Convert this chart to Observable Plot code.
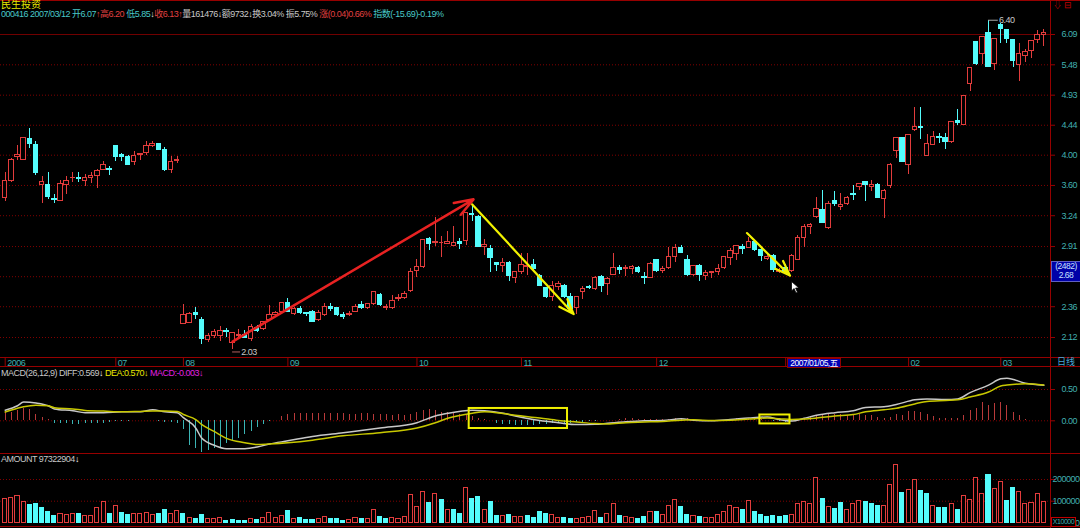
<!DOCTYPE html>
<html><head><meta charset="utf-8">
<script src="https://cdn.jsdelivr.net/npm/d3@7"></script>
<script src="https://cdn.jsdelivr.net/npm/@observablehq/plot@0.6"></script>
<style>
html,body{margin:0;padding:0;background:#000;}
#root{position:relative;width:1080px;height:528px;overflow:hidden;background:#000;}
.t{position:absolute;white-space:nowrap;font-size:9px;line-height:10px;}
.h{position:absolute;left:0;width:1080px;height:1px;background:#960000;}
.v{position:absolute;width:1px;background:#960000;}
</style></head><body><div id="root"></div>
<script>
// ---------------- data ----------------
const open = [3.45,3.65,3.98,3.94,4.23,4.14,3.61,3.61,3.43,3.41, 3.61,3.69,3.70,3.66,3.69,3.72,3.80,3.81,4.13,4.00, 3.98,3.90,4.00,4.03,4.13,4.16,4.07,3.80,3.92,2.22, 2.23,2.31,2.25,2.10,2.13,2.13,2.17,2.08,2.13,2.14, 2.11,2.19,2.18,2.25,2.29,2.32,2.39,2.30,2.34,2.31, 2.32,2.25,2.29,2.36,2.35,2.29,2.29,2.32,2.37,2.35, 2.38,2.46,2.35,2.35,2.42,2.43,2.49,2.67,2.71,2.99, 2.95,2.95,2.94,2.92,2.96,2.97,3.26,3.23,2.91,2.89, 2.75,2.72,2.75,2.61,2.66,2.71,2.73,2.63,2.52,2.44, 2.53,2.54,2.44,2.35,2.48,2.53,2.51,2.62,2.55,2.64, 2.70,2.69,2.69,2.70,2.62,2.61,2.78,2.67,2.70,2.81, 2.90,2.78,2.64,2.72,2.63,2.65,2.66,2.70,2.80,2.84, 2.91,2.90,2.96,2.88,2.79,2.82,2.66,2.70,2.67,2.78, 3.00,3.11,3.23,3.30,3.10,3.41,3.34,3.37,3.49,3.58, 3.64,3.58,3.60,3.43,3.59,4.06,4.25,3.86,4.37,4.42, 3.99,4.14,4.26,4.24,4.19,4.51,4.44,5.12,5.93,5.70, 6.12,5.49,6.29,6.19,5.98,5.47,5.65,5.75,5.97,6.07];
const high = [3.76,3.95,4.14,4.25,4.39,4.20,3.72,3.76,3.49,3.66, 3.72,3.77,3.77,3.74,3.76,3.80,3.91,3.85,4.14,4.03, 4.00,4.05,4.02,4.19,4.19,4.17,4.11,3.98,3.98,2.38, 2.31,2.35,2.27,2.15,2.18,2.20,2.19,2.16,2.18,2.17, 2.22,2.21,2.24,2.37,2.32,2.39,2.43,2.35,2.36,2.31, 2.33,2.33,2.39,2.39,2.35,2.31,2.32,2.38,2.40,2.39, 2.48,2.47,2.38,2.45,2.46,2.49,2.70,2.78,2.98,3.00, 3.22,3.01,3.07,3.12,2.99,3.27,3.36,3.24,2.98,2.92, 2.75,2.79,2.76,2.67,2.84,2.84,2.78,2.64,2.52,2.58, 2.58,2.55,2.47,2.44,2.53,2.54,2.62,2.63,2.61,2.84, 2.72,2.72,2.72,2.71,2.66,2.75,2.78,2.71,2.90,2.93, 2.92,2.82,2.72,2.73,2.68,2.66,2.73,2.81,2.89,2.92, 2.93,3.00,2.97,2.89,2.84,2.83,2.70,2.73,2.83,3.02, 3.14,3.15,3.45,3.54,3.40,3.53,3.50,3.47,3.60,3.62, 3.65,3.66,3.62,3.55,3.88,4.24,4.26,4.30,4.73,4.73, 4.30,4.34,4.32,4.31,4.50,4.69,4.93,5.41,5.93,6.03, 6.40,6.00,6.33,6.19,5.98,5.90,5.79,5.96,6.17,6.20];
const low = [3.40,3.64,3.93,3.93,4.10,3.73,3.38,3.43,3.38,3.40, 3.49,3.64,3.64,3.59,3.63,3.56,3.80,3.73,3.92,3.92, 3.86,3.86,3.93,4.00,4.11,4.06,3.78,3.75,3.88,2.22, 2.23,2.26,2.07,2.08,2.11,2.09,2.12,2.03,2.12,2.11, 2.09,2.16,2.17,2.25,2.28,2.31,2.31,2.29,2.30,2.28, 2.23,2.24,2.28,2.32,2.28,2.26,2.28,2.31,2.34,2.34, 2.37,2.36,2.33,2.34,2.40,2.42,2.48,2.61,2.70,2.87, 2.91,2.80,2.93,2.91,2.88,2.92,3.18,2.90,2.82,2.66, 2.67,2.66,2.58,2.56,2.64,2.63,2.67,2.53,2.43,2.40, 2.50,2.43,2.33,2.30,2.42,2.51,2.50,2.48,2.45,2.63, 2.64,2.62,2.64,2.65,2.55,2.60,2.66,2.65,2.69,2.75, 2.84,2.62,2.62,2.58,2.59,2.60,2.63,2.69,2.72,2.77, 2.83,2.89,2.86,2.76,2.77,2.66,2.65,2.64,2.66,2.77, 2.90,3.04,3.21,3.15,3.09,3.34,3.30,3.36,3.42,3.54, 3.40,3.53,3.44,3.21,3.56,3.95,3.90,3.74,4.34,4.22, 3.98,4.14,4.16,4.08,4.17,4.43,4.43,5.00,5.47,5.49, 5.43,5.38,5.90,5.90,5.42,5.17,5.53,5.61,5.90,5.85];
const close = [3.65,3.94,4.00,4.24,4.16,3.76,3.64,3.46,3.42,3.62, 3.65,3.70,3.68,3.69,3.72,3.78,3.86,3.80,3.98,3.97, 3.87,3.99,4.02,4.13,4.16,4.07,3.80,3.91,3.93,2.29, 2.30,2.29,2.11,2.13,2.16,2.17,2.16,2.15,2.14,2.12, 2.20,2.17,2.24,2.29,2.31,2.39,2.32,2.34,2.31,2.30, 2.24,2.31,2.36,2.34,2.29,2.28,2.30,2.36,2.35,2.38, 2.48,2.37,2.36,2.41,2.43,2.47,2.66,2.71,2.98,2.94, 2.96,2.95,2.96,2.95,2.94,3.27,3.25,2.91,2.93,2.80, 2.73,2.75,2.63,2.66,2.73,2.72,2.69,2.54,2.44,2.54, 2.55,2.44,2.34,2.44,2.51,2.52,2.61,2.54,2.60,2.70, 2.68,2.70,2.71,2.66,2.61,2.74,2.67,2.69,2.81,2.90, 2.85,2.64,2.72,2.64,2.65,2.66,2.69,2.81,2.87,2.92, 2.89,2.96,2.88,2.82,2.81,2.68,2.67,2.66,2.82,3.00, 3.11,3.14,3.32,3.16,3.38,3.37,3.36,3.45,3.48,3.62, 3.61,3.60,3.45,3.53,3.87,4.24,3.91,4.29,4.41,4.39, 4.16,4.26,4.25,4.19,4.49,4.47,4.92,5.41,5.49,6.03, 5.43,5.99,6.20,5.99,5.56,5.70,5.73,5.95,6.09,6.13];
const amount = [109000,115000,125000,96000,83000,86000,67000,51000,32000,43000, 37000,43000,40000,32000,32000,67000,96000,40000,80000,45000, 35000,40000,40000,45000,35000,40000,59000,40000,56000,40000, 22000,19000,35000,16000,16000,22000,11000,13000,10000,10000, 16000,13000,24000,46000,24000,32000,53000,16000,21000,13000, 13000,16000,27000,16000,16000,10000,13000,21000,16000,19000, 61000,29000,16000,24000,16000,29000,128000,72000,141000,91000, 133000,104000,61000,59000,40000,163000,112000,120000,61000,96000, 32000,32000,35000,29000,29000,32000,24000,51000,40000,37000, 21000,21000,16000,19000,21000,27000,53000,24000,40000,85000, 32000,27000,21000,19000,27000,51000,48000,35000,77000,104000, 75000,37000,32000,27000,24000,21000,35000,51000,77000,69000, 61000,99000,51000,37000,27000,32000,29000,32000,35000,85000, 96000,85000,205000,112000,72000,64000,91000,61000,85000,99000, 96000,86000,77000,80000,176000,269000,136000,152000,200000,147000, 131000,80000,67000,67000,88000,61000,123000,104000,208000,133000, 221000,157000,189000,99000,163000,141000,85000,91000,133000,97323];
const macdBar = [0.13,0.14,0.16,0.19,0.18,0.10,0.05,0.02,-0.044,-0.044, -0.05,-0.055,-0.055,-0.05,-0.05,-0.05,-0.044,-0.033,-0.016,-0.005, -0.005,0.003,0.005,0.01,0.005,-0.005,-0.02,-0.033,-0.044,-0.14, -0.39,-0.445,-0.50,-0.47,-0.445,-0.43,-0.37,-0.335,-0.28,-0.225, -0.17,-0.115,-0.06,-0.016,0.01,0.066,0.093,0.115,0.12,0.12, 0.12,0.12,0.115,0.12,0.115,0.115,0.10,0.10,0.11,0.115, 0.10,0.10,0.093,0.088,0.093,0.088,0.10,0.13,0.16,0.176, 0.16,0.13,0.13,0.12,0.10,0.077,0.066,0.038,0.022,0, -0.044,-0.06,-0.06,-0.077,-0.077,-0.077,-0.077,-0.06,-0.055,-0.05, -0.044,-0.044,-0.04,-0.033,-0.02,-0.016,-0.01,0,0.005,0.01, 0.02,0.033,0.038,0.027,0.02,0.02,0.02,0.016,0.027,0.038, 0.044,0.033,0.016,0.005,0,0,0,0.01,0.02,0.033, 0.038,0.038,0.027,0.016,0.005,-0.005,-0.016,-0.022,-0.01,0.005, 0.033,0.05,0.088,0.088,0.10,0.10,0.093,0.088,0.10,0.104, 0.088,0.077,0.05,0.038,0.055,0.104,0.088,0.143,0.143,0.13, 0.104,0.066,0.044,0.033,0.038,0.033,0.077,0.16,0.20,0.30, 0.24,0.27,0.286,0.24,0.13,0.077,0.022,0.005,0.002,-0.003];
const lineIdx = [0,2,3,5,7,8,11,13,16,19,22,24,26,28,29,31,32,34,36,39,41,43,46,50,55,61,67,70,72,76,78,81,83,87,90,93,96,98,101,104,107,110,112,115,118,121,124,126,128,130,132,135,138,140,143,145,148,150,153,155,157,160,162,163,166,169];
const diffVals = [0.17,0.24,0.30,0.285,0.24,0.19,0.16,0.13,0.13,0.143,0.143,0.176,0.143,0.13,0.05,-0.115,-0.28,-0.39,-0.445,-0.445,-0.42,-0.37,-0.32,-0.25,-0.19,-0.115,-0.03,0.077,0.12,0.17,0.16,0.12,0.077,0.005,-0.03,-0.06,-0.055,-0.04,-0.016,0.0,0.005,0.033,0.01,0.0,0.02,0.044,0.06,0.02,-0.005,0.04,0.088,0.13,0.16,0.214,0.225,0.26,0.335,0.35,0.34,0.35,0.45,0.57,0.67,0.68,0.60,0.569];
const deaVals = [0.14,0.20,0.225,0.25,0.24,0.21,0.19,0.165,0.155,0.143,0.15,0.155,0.155,0.15,0.10,0.02,-0.06,-0.17,-0.28,-0.35,-0.38,-0.37,-0.35,-0.31,-0.24,-0.19,-0.115,-0.03,0.04,0.12,0.143,0.115,0.088,0.045,0.005,-0.02,-0.045,-0.05,-0.03,-0.02,-0.01,0.01,0.016,0.005,0.01,0.027,0.044,0.033,0.02,0.027,0.044,0.077,0.10,0.143,0.176,0.20,0.27,0.31,0.325,0.335,0.38,0.46,0.555,0.57,0.59,0.570];
const monthIdx = [0,18,29,46,67,84,106,127,147,162];
const monthLabels = ["2006","07","08","09","10","11","12","2007","02","03"];
const priceTicks = [2.12,2.36,2.62,2.91,3.24,3.60,4.00,4.44,4.93,5.48,6.09];
const macdTicks = [0,0.5];
const amountTicks = [0,100000,200000];
// trend annotations (day index, price)
const arrowX1 = [37, 76, 120.7], arrowY1 = [2.09, 3.37, 3.05];
const arrowX2 = [76.2, 92.5, 127.7], arrowY2 = [3.43, 2.30, 2.63];
const arrowDir = ["up","down","down"];
// highlighted MACD boxes (day index range, value range)
const boxX1 = [75.5, 122.8], boxX2 = [91.5, 127.7], boxY1 = [-0.123, -0.05], boxY2 = [0.197, 0.093];
const cursorIdx = 128, cursorPrice = 2.68, cursorLabel = "(2482)", cursorDate = "2007/01/05,五";

// ---------------- fonts ----------------
function textWidth(font){ const c=document.createElement("canvas").getContext("2d"); c.font=font; return c.measureText("0123456789").width; }
const hasNarrow = Math.abs(textWidth('20px "Liberation Sans Narrow", monospace') - textWidth('20px monospace')) > 0.5;
const FONT = hasNarrow ? '"Liberation Sans Narrow", "Noto Sans CJK SC", sans-serif' : '"Liberation Sans", "Noto Sans CJK SC", sans-serif';
const LS = hasNarrow ? "0px" : "-0.5px";

// ---------------- drawing ----------------
const RED="#e23c3c", CYAN="#54fcfc", MRED="#b83a3a", MCYAN="#3cb4b4", GRID="#800000", FRAME="#960000", TEAL="#40b0b0";
const X = {domain:[0,169], range:[4.7,1043.3], axis:null};
const N = close.length;
const rows = d3.range(N).map(i => ({i, o:open[i], h:high[i], l:low[i], c:close[i], up:close[i]>=open[i], rise: i===0 || close[i]>close[i-1], a:amount[i], m:macdBar[i]}));
const arrows = arrowX1.map((_, k) => ({x1:arrowX1[k], y1:arrowY1[k], x2:arrowX2[k], y2:arrowY2[k], dir:arrowDir[k]}));
const boxes = boxX1.map((_, k) => ({x1:boxX1[k], x2:boxX2[k], y1:boxY1[k], y2:boxY2[k]}));
const peakI = d3.maxIndex(high), lowI = d3.minIndex(low);
const peak = {i:peakI, v:high[peakI]}, trough = {i:lowI, v:low[lowI]};
const diffPts = lineIdx.map((d,k)=>({i:d, v:diffVals[k]}));
const deaPts = lineIdx.map((d,k)=>({i:d, v:deaVals[k]}));

// cursor position on the price scale (used to hide the tick label it covers)
const yLog = d3.scaleLog().domain([2.12,6.09]).range([319,16]);
const cursorY = yLog(cursorPrice);
const visiblePriceLabels = priceTicks.filter(t => Math.abs(yLog(t) - cursorY) > 9);

const root = document.getElementById("root");
const base = {width:1080, marginLeft:0, marginRight:30, marginTop:0, marginBottom:0,
  style:{background:"transparent", overflow:"visible", fontFamily:FONT, letterSpacing:LS}};
function place(el, top){ el.style.position="absolute"; el.style.left="0px"; el.style.top=top+"px"; root.appendChild(el); return el; }
function rightLabels(ticks, fmt, opts={}){
  return Plot.text(ticks, {y:d=>d, text:fmt, frameAnchor:"right", dx:opts.dx ?? 11, textAnchor:opts.anchor ?? "start", fill:TEAL, fontSize:9});
}
function rightTicks(ticks){ return Plot.axisY({anchor:"right", ticks, tickSize:4, tickFormat:()=>"", color:FRAME, label:null}); }

const pricePlot = Plot.plot({...base, height:338, x:X,
  y:{type:"log", domain:[2.12,6.09], range:[319,16], axis:null, label:null},
  marks:[
    Plot.ruleY(priceTicks.filter(t=>t!==6.09), {stroke:GRID, strokeDasharray:"1,2"}),
    Plot.ruleY([6.09], {stroke:"#700000"}),
    Plot.ruleX(rows, {x:"i", y1:"l", y2:"h", stroke:d=>d.up?RED:CYAN, shapeRendering:"crispEdges"}),
    Plot.rect(rows.filter(d=>d.o!==d.c), {x1:d=>d.i-0.36, x2:d=>d.i+0.36, y1:"o", y2:"c", fill:d=>d.up?"#000":CYAN, stroke:d=>d.up?RED:CYAN, shapeRendering:"crispEdges"}),
    Plot.ruleY(rows.filter(d=>d.o===d.c), {y:"c", x1:d=>d.i-0.36, x2:d=>d.i+0.36, stroke:d=>d.up?RED:CYAN, shapeRendering:"crispEdges"}),
    Plot.arrow(arrows.filter(d=>d.dir==="up"), {x1:"x1", y1:"y1", x2:"x2", y2:"y2", stroke:"#e82222", strokeWidth:2.5, headLength:12, headAngle:40}),
    Plot.arrow(arrows.filter(d=>d.dir==="down"), {x1:"x1", y1:"y1", x2:"x2", y2:"y2", stroke:"#f2f200", strokeWidth:2.2, headLength:11, headAngle:40}),
    Plot.ruleY([peak], {y:"v", x1:d=>d.i, x2:d=>d.i+1.6, stroke:"#a8a8a8"}),
    Plot.text([peak], {x:d=>d.i+1.7, y:"v", text:d=>d.v.toFixed(2), textAnchor:"start", fill:"#c8c8c8", fontSize:9}),
    Plot.ruleY([trough], {y:"v", dy:2, x1:d=>d.i, x2:d=>d.i+1.3, stroke:"#b06060"}),
    Plot.text([trough], {x:d=>d.i+1.4, y:"v", dy:2, text:d=>d.v.toFixed(2), textAnchor:"start", fill:"#c8c8c8", fontSize:9}),
    rightTicks(priceTicks),
    rightLabels(visiblePriceLabels, d=>d.toFixed(2))
  ]});
place(pricePlot, 18);

const stripPlot = Plot.plot({...base, height:9, x:X,
  marks:[
    Plot.ruleX(monthIdx, {x:d=>d, stroke:FRAME}),
    Plot.text(monthIdx, {x:d=>d, text:(d,k)=>monthLabels[k], frameAnchor:"middle", dx:2, textAnchor:"start", fill:TEAL, fontSize:9})
  ]});
place(stripPlot, 358);

const macdPlot = Plot.plot({...base, height:86, x:X,
  y:{domain:[0,0.5], range:[53.3,22], axis:null, label:null},
  marks:[
    Plot.ruleY(macdTicks, {stroke:GRID, strokeDasharray:"1,2"}),
    Plot.ruleX(rows, {x:"i", y1:0, y2:"m", stroke:d=>d.m>=0?MRED:MCYAN, shapeRendering:"crispEdges"}),
    Plot.line(diffPts, {x:"i", y:"v", stroke:"#c8c8c8", curve:"monotone-x"}),
    Plot.line(deaPts, {x:"i", y:"v", stroke:"#c8c800", curve:"monotone-x"}),
    Plot.rect(boxes, {x1:"x1", x2:"x2", y1:"y1", y2:"y2", fill:"none", stroke:"#f0f000", strokeWidth:2}),
    rightTicks(macdTicks),
    rightLabels(macdTicks, d=>d.toFixed(2))
  ]});
place(macdPlot, 367);

const amtPlot = Plot.plot({...base, height:73, x:X,
  y:{domain:[0,100000], range:[69.4,47.7], axis:null, label:null},
  marks:[
    Plot.ruleY(amountTicks.filter(t=>t>0), {stroke:GRID, strokeDasharray:"1,2"}),
    Plot.rect(rows, {x1:d=>d.i-0.33, x2:d=>d.i+0.33, y1:0, y2:"a", fill:d=>d.rise?"#000":CYAN, stroke:d=>d.rise?RED:CYAN, shapeRendering:"crispEdges"}),
    rightTicks(amountTicks),
    rightLabels(amountTicks, d=>String(d), {dx:29, anchor:"end"})
  ]});
place(amtPlot, 453);

// ---------------- chrome & text ----------------
function div(cls, css, html){ const e=document.createElement("div"); e.className=cls; e.style.cssText=css; e.style.fontFamily=FONT; if(!/letter-spacing/.test(css)) e.style.letterSpacing=LS; if(html!==undefined) e.innerHTML=html; root.appendChild(e); return e; }
div("h","top:0px;");
div("h","top:357px;");
div("h","top:366px;");
div("h","top:453px;");
div("h","top:526px;");
div("v","left:1050px;top:0px;height:528px;");
div("t","left:1px;top:0px;font-size:10px;line-height:9px;color:#e8e800;letter-spacing:0;","民生投资");
div("t","left:1px;top:9px;",
 '<span style="color:#48c8c8">000416 2007/03/12 </span><span style="color:#48c8c8">开6.07</span><span style="color:#e04040">↑</span>'+
 '<span style="color:#e04040">高6.20 </span><span style="color:#48c8c8">低5.85</span><span style="color:#e0e0e0">↓</span>'+
 '<span style="color:#e04040">收6.13↑</span><span style="color:#c8c8c8">量161476</span><span style="color:#e0e0e0">↓</span>'+
 '<span style="color:#c8c8c8">额9732</span><span style="color:#e0e0e0">↓</span><span style="color:#c8c8c8">换3.04% 振5.75% </span>'+
 '<span style="color:#e04040">涨(0.04)0.66% </span><span style="color:#48c8c8">指数(-15.69)-0.19%</span>');
div("t","left:1053px;top:0px;color:#c00000;font-size:9px;","⇩");
div("t","left:1064px;top:0px;color:#c00000;font-size:9px;","⊟");
div("t","left:1px;top:368px;",
 '<span style="color:#c8c8c8">MACD(26,12,9) DIFF:0.569</span><span style="color:#fff">↓</span>'+
 '<span style="color:#e8e800"> DEA:0.570↓</span><span style="color:#e020e0"> MACD:-0.003↓</span>');
div("t","left:1px;top:454px;",'<span style="color:#c8c8c8">AMOUNT 97322904</span><span style="color:#fff">↓</span>');
div("t","left:1057px;top:357px;color:#48a8d8;letter-spacing:0;","日线");
div("t","left:1051px;top:517px;width:23px;height:8px;line-height:8px;border:1px solid #c00000;color:#40b0b0;font-size:7px;letter-spacing:-0.4px;background:#000;text-align:center;","X10000");

const xs = pricePlot.scale("x");
const cx = xs.apply(cursorIdx), cy = cursorY + 18;
div("t",`left:${cx-4}px;top:358px;height:8px;line-height:8px;padding:0 2px;background:#0000b4;border:1px solid #900000;color:#fff;font-size:8.5px;`, cursorDate);
div("t",`left:1051px;top:${cy-9}px;width:28px;height:19px;background:#0000a8;border:1px solid #6060c0;color:#c8e0ff;font-size:8.5px;line-height:9px;text-align:center;`, cursorLabel+"<br>"+cursorPrice.toFixed(2));
const ptr = document.createElementNS("http://www.w3.org/2000/svg","svg");
ptr.setAttribute("width","12"); ptr.setAttribute("height","14");
ptr.style.cssText = `position:absolute;left:${cx}px;top:${cy+11}px;`;
ptr.innerHTML = '<path d="M0.5,0.5 L0.5,10 L3,7.5 L5,12 L6.5,11.3 L4.6,7 L8,7 Z" fill="#fff" stroke="#000" stroke-width="0.8"/>';
root.appendChild(ptr);
</script></body></html>
